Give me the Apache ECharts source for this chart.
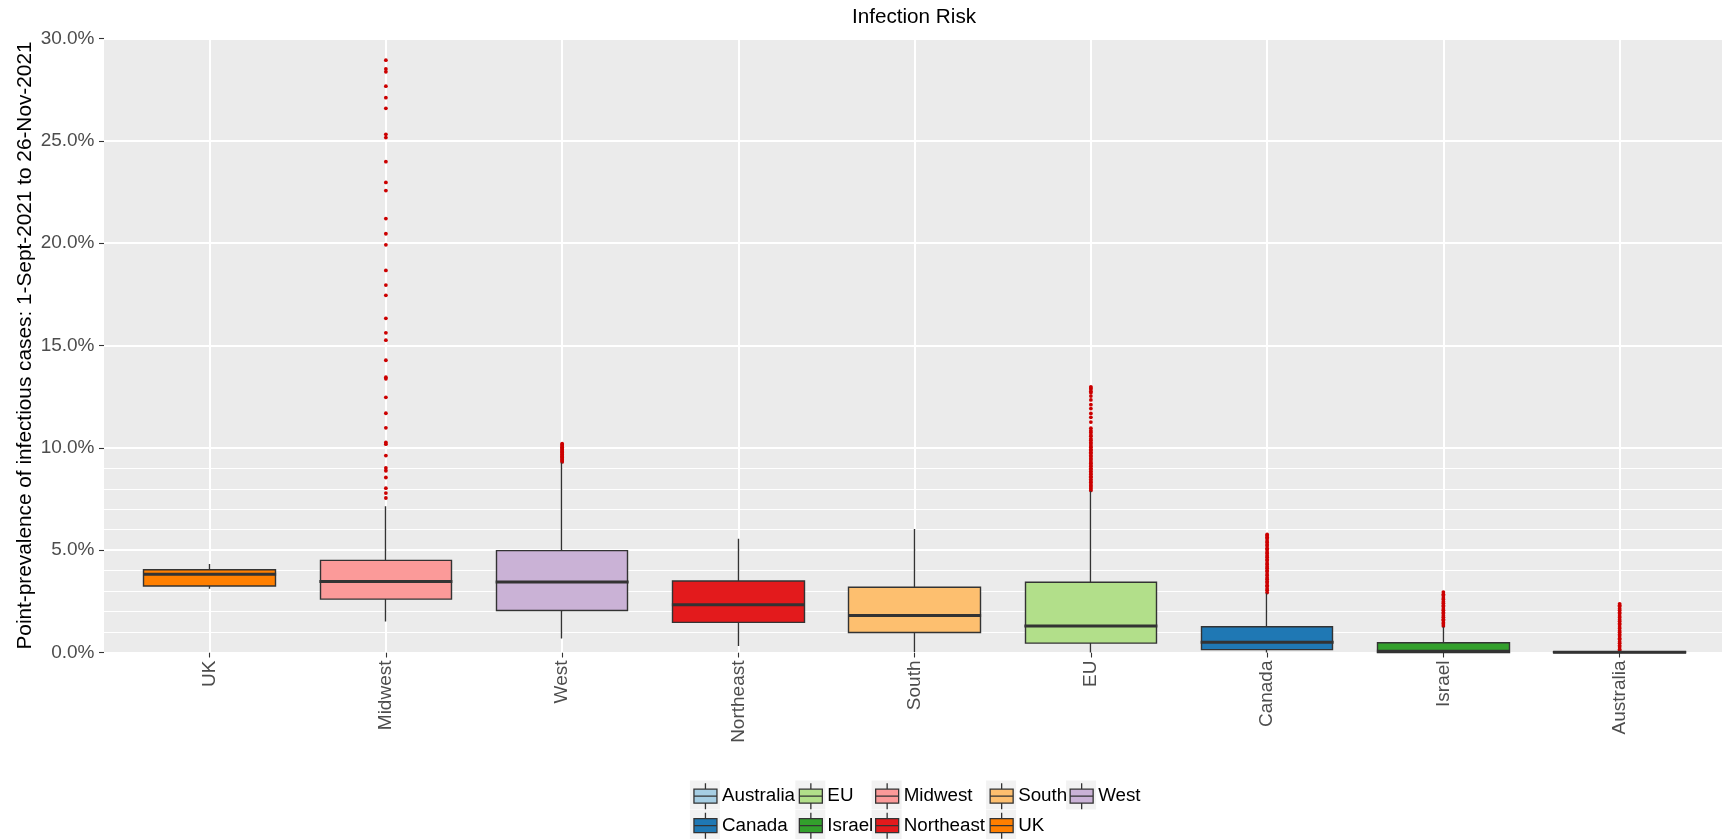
<!DOCTYPE html>
<html>
<head>
<meta charset="utf-8">
<title>Infection Risk</title>
<script src="https://cdn.jsdelivr.net/npm/echarts@6/dist/echarts.min.js"></script>
<style>
  html, body { margin: 0; padding: 0; background: #ffffff; }
  #chart { width: 1722px; height: 839px; }
</style>
</head>
<body>
<div id="chart"></div>
<script>
// Regions, left to right
const categories = ['UK', 'Midwest', 'West', 'Northeast', 'South', 'EU', 'Canada', 'Israel', 'Australia'];

// Box summaries, in percent
const whiskerLow  = [3.11, 1.51, 0.68, 0.32, 0.02, 0.00, 0.00, 0.00, 0.00];
const quartile1   = [3.25, 2.61, 2.05, 1.47, 0.98, 0.46, 0.14, 0.00, 0.00];
const medians     = [3.82, 3.47, 3.45, 2.33, 1.81, 1.29, 0.50, 0.06, 0.01];
const quartile3   = [4.04, 4.50, 4.98, 3.49, 3.19, 3.43, 1.26, 0.48, 0.04];
const whiskerHigh = [4.32, 7.15, 9.28, 5.56, 6.04, 7.89, 2.90, 1.26, 0.07];

// Outlying observations, in percent
const outliersUK = [];
const outliersMidwest = [7.55, 7.79, 8.03, 8.55, 8.88, 9.02, 9.62, 10.18, 10.26, 10.98, 11.69, 12.47,
  13.37, 13.45, 14.28, 15.26, 15.62, 16.33, 17.45, 17.95, 18.67, 19.92, 20.46, 21.20, 22.57, 22.97,
  23.98, 25.16, 25.32, 26.59, 27.11, 27.67, 28.37, 28.51, 28.94];
const outliersWest = [9.31, 9.36, 9.42, 9.46, 9.53, 9.57, 9.60, 9.67, 9.70, 9.77, 9.81, 9.84, 9.91,
  9.94, 10.00, 10.03, 10.09, 10.15, 10.20];
const outliersNortheast = [];
const outliersSouth = [];
const outliersEU = [7.92, 8.00, 8.09, 8.15, 8.23, 8.32, 8.38, 8.46, 8.56, 8.61, 8.71, 8.77, 8.85,
  8.94, 9.00, 9.10, 9.16, 9.25, 9.31, 9.41, 9.47, 9.56, 9.62, 9.72, 9.78, 9.87, 9.93, 10.03, 10.09,
  10.19, 10.26, 10.37, 10.44, 10.56, 10.63, 10.75, 10.84, 10.96, 11.26, 11.49, 11.68, 11.92, 12.11,
  12.34, 12.53, 12.69, 12.77, 12.87, 12.92, 12.98];
const outliersCanada = [2.93, 3.04, 3.11, 3.22, 3.29, 3.40, 3.47, 3.58, 3.65, 3.76, 3.83, 3.94, 4.01,
  4.12, 4.19, 4.30, 4.37, 4.48, 4.55, 4.66, 4.73, 4.84, 4.91, 5.02, 5.09, 5.20, 5.27, 5.38, 5.45,
  5.56, 5.63, 5.71, 5.77];
const outliersIsrael = [1.30, 1.39, 1.45, 1.56, 1.62, 1.72, 1.79, 1.89, 1.96, 2.06, 2.13, 2.23, 2.30,
  2.41, 2.48, 2.59, 2.66, 2.77, 2.85, 2.95];
const outliersAustralia = [0.09, 0.16, 0.27, 0.34, 0.45, 0.52, 0.63, 0.70, 0.81, 0.88, 0.99, 1.06,
  1.17, 1.24, 1.35, 1.42, 1.53, 1.60, 1.71, 1.78, 1.89, 1.96, 2.07, 2.14, 2.25, 2.31, 2.38];
const outlierLists = [outliersUK, outliersMidwest, outliersWest, outliersNortheast, outliersSouth,
  outliersEU, outliersCanada, outliersIsrael, outliersAustralia];

// Value axis
const yMin = 0, yMax = 30, yStep = 5;
const fineGridValues = [1, 2, 3, 4, 6, 7, 8, 9];

// Legend columns (filled top to bottom)
const legendColumns = [['Australia', 'Canada'], ['EU', 'Israel'], ['Midwest', 'Northeast'], ['South', 'UK'], ['West']];

const regionColors = {
  Australia: '#A6CEE3', Canada: '#1F78B4', EU: '#B2DF8A', Israel: '#33A02C',
  Midwest: '#FB9A99', Northeast: '#E31A1C', South: '#FDBF6F', UK: '#FF7F00', West: '#CAB2D6'
};

const FONT = "'Liberation Sans', Arial, Helvetica, sans-serif";
const INK = '#333333';

// ---- series ----
const series = [];

// fine horizontal guides below 10 %
series.push({
  type: 'scatter', xAxisIndex: 0, yAxisIndex: 0, data: [], z: 1, silent: true,
  markLine: {
    z: 1, silent: true, symbol: 'none', animation: false,
    label: { show: false },
    lineStyle: { color: '#FFFFFF', width: 1.1, type: 'solid' },
    emphasis: { disabled: true },
    data: fineGridValues.map(v => ({ yAxis: v }))
  }
});

// vertical guides at each region
series.push({
  type: 'scatter', xAxisIndex: 1, yAxisIndex: 1, data: [], z: 1, silent: true,
  markLine: {
    z: 1, silent: true, symbol: 'none', animation: false,
    label: { show: false },
    lineStyle: { color: '#FFFFFF', width: 2, type: 'solid' },
    emphasis: { disabled: true },
    data: categories.map(c => ({ xAxis: c }))
  }
});

// outliers
const outlierPoints = [];
outlierLists.forEach((list, i) => list.forEach(v => outlierPoints.push([i, v])));
series.push({
  type: 'scatter', name: 'outliers', xAxisIndex: 1, yAxisIndex: 1, z: 2, silent: true,
  symbol: 'circle', symbolSize: 3.8,
  itemStyle: { color: '#CC0000', opacity: 1 },
  data: outlierPoints
});

// boxes with whiskers, one series per region
categories.forEach((name, i) => {
  const data = categories.map((_, j) => j === i
    ? [quartile1[i], quartile3[i], whiskerLow[i], whiskerHigh[i]]
    : '-');
  series.push({
    type: 'candlestick', name: name, xAxisIndex: 1, yAxisIndex: 1, z: 3, silent: true,
    barWidth: '75%',
    itemStyle: {
      color: regionColors[name], color0: regionColors[name],
      borderColor: INK, borderColor0: INK, borderColorDoji: INK,
      borderWidth: 1.4
    },
    data: data
  });
});

// medians drawn as thick bars across each box
series.push({
  type: 'scatter', name: 'median', xAxisIndex: 1, yAxisIndex: 1, z: 4, silent: true,
  symbol: 'rect', symbolSize: [133, 3],
  itemStyle: { color: INK, opacity: 1 },
  data: medians.map((m, i) => [i, m])
});

// ---- legend: one entry per key cell ----
const keyIcon = 'path://M0,6H23V20H0Z M0,13H23 M11.5,0V6 M11.5,20V26';
const legendLeft = [693.3, 798.7, 875, 989.5, 1069.5];
const legendTop = 782.5, legendRowStep = 29.5;
const legends = [];
const keyBackgrounds = [];
legendColumns.forEach((names, k) => {
  names.forEach((n, r) => {
    legends.push({
      orient: 'horizontal',
      left: legendLeft[k], top: legendTop + r * legendRowStep,
      padding: 0, itemWidth: 23, itemHeight: 26,
      selectedMode: false,
      textStyle: { fontSize: 18.8, color: '#000000', fontFamily: FONT },
      data: [{
        name: n, icon: keyIcon,
        itemStyle: { color: regionColors[n], borderColor: INK, borderWidth: 1.3 }
      }]
    });
    keyBackgrounds.push({
      type: 'rect', z: 0, silent: true,
      shape: { x: legendLeft[k] - 3.4, y: legendTop - 2 + r * legendRowStep, width: 30, height: 29 },
      style: { fill: '#F2F2F2' }
    });
  });
});

const option = {
  animation: false,
  backgroundColor: '#FFFFFF',
  textStyle: { fontFamily: FONT },
  title: {
    text: 'Infection Risk',
    left: 914, top: 7, padding: 0, textAlign: 'center',
    textStyle: { fontSize: 20.7, fontWeight: 'normal', color: '#000000', fontFamily: FONT }
  },
  legend: legends,
  graphic: keyBackgrounds,
  grid: [
    { left: 104, right: 0, top: 38.5, bottom: 186.5, show: true, backgroundColor: '#EBEBEB', borderWidth: 0 },
    { left: 121.5, right: 14.25, top: 38.5, bottom: 186.5 }
  ],
  xAxis: [
    { type: 'value', gridIndex: 0, min: 0, max: 1, show: false },
    {
      type: 'category', gridIndex: 1, data: categories, boundaryGap: true,
      axisLine: { show: false },
      axisTick: { show: true, alignWithLabel: true, length: 5, lineStyle: { color: INK, width: 1.1 } },
      axisLabel: { rotate: 90, interval: 0, margin: 8, fontSize: 19, color: '#4D4D4D', fontFamily: FONT },
      splitLine: { show: false }
    }
  ],
  yAxis: [
    {
      type: 'value', gridIndex: 0, min: yMin, max: yMax, interval: yStep,
      name: 'Point-prevalence of infectious cases: 1-Sept-2021 to 26-Nov-2021',
      nameLocation: 'middle', nameRotate: 90, nameGap: 68, nameMoveOverlap: false,
      nameTextStyle: { fontSize: 20.8, color: '#000000', fontFamily: FONT },
      axisLine: { show: false },
      axisTick: { show: true, length: 5, lineStyle: { color: INK, width: 1.1 } },
      axisLabel: { margin: 9.5, fontSize: 19, color: '#4D4D4D', fontFamily: FONT,
        formatter: v => v.toFixed(1) + '%' },
      splitLine: { show: true, lineStyle: { color: '#FFFFFF', width: 2 } }
    },
    { type: 'value', gridIndex: 1, min: yMin, max: yMax, interval: yStep, show: false, splitLine: { show: false } }
  ],
  series: series
};

const chart = echarts.init(document.getElementById('chart'), null, { renderer: 'canvas' });
chart.setOption(option);
</script>
</body>
</html>
